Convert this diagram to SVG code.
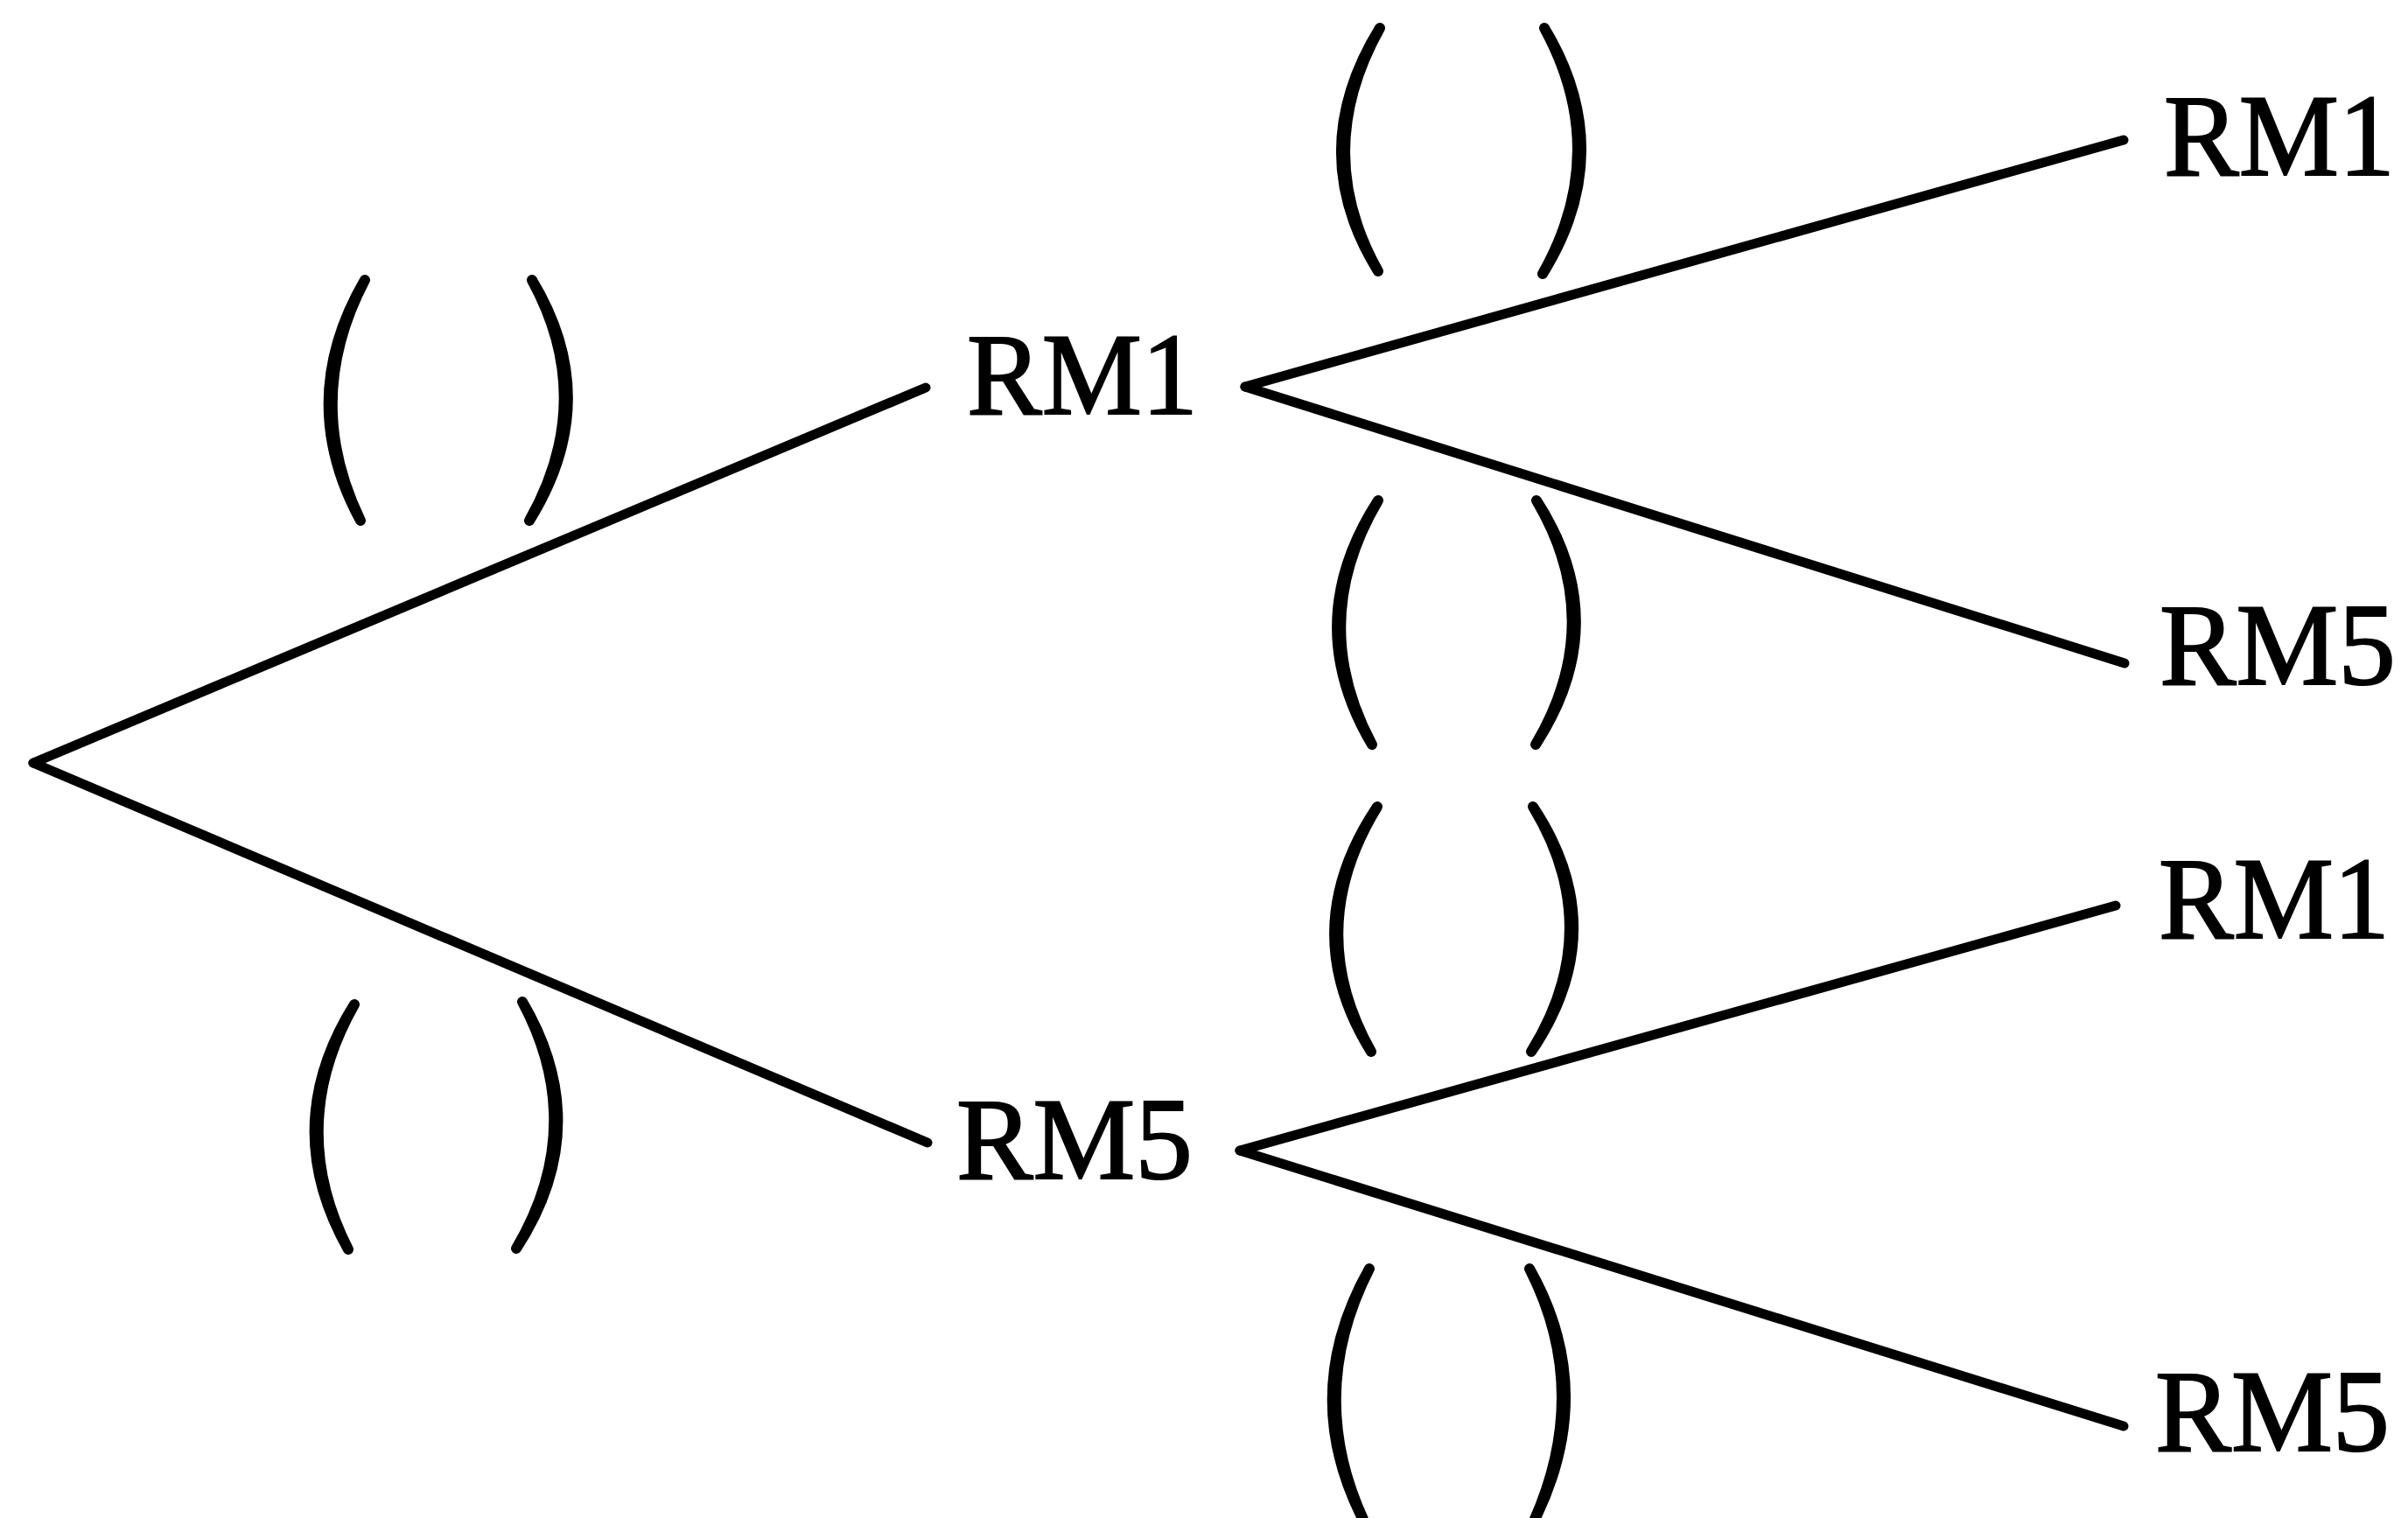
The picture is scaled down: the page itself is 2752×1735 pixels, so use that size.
<svg xmlns="http://www.w3.org/2000/svg" width="2752" height="1735" viewBox="0 0 2752 1735">
<style>
.edge{stroke:#000;stroke-width:11;stroke-linecap:round;fill:none}
.par{stroke:#000;stroke-width:12;stroke-linejoin:round;stroke-linecap:round;fill:#000}
.lbl{font-family:"Liberation Serif","Times New Roman",serif;font-size:133px;fill:#000;stroke:#000;stroke-width:2}
</style>
<rect width="2752" height="1735" fill="#fff"/>
<g id="connectors">
<line class="edge" x1="38" y1="872" x2="1058" y2="443"/>
<line class="edge" x1="38" y1="872" x2="1060" y2="1306"/>
<line class="edge" x1="1423" y1="442" x2="2427" y2="160"/>
<line class="edge" x1="1423" y1="442" x2="2428" y2="758"/>
<line class="edge" x1="1417" y1="1315" x2="2418" y2="1035"/>
<line class="edge" x1="1417" y1="1315" x2="2427" y2="1630"/>
</g>
<g id="n-rm1-mid"><text class="lbl" x="1105" y="473" textLength="264" lengthAdjust="spacingAndGlyphs">RM1</text></g>
<g id="n-rm5-mid"><text class="lbl" x="1093" y="1347" textLength="270" lengthAdjust="spacingAndGlyphs">RM5</text></g>
<g id="n-rm1-a"><text class="lbl" x="2473" y="200" textLength="264" lengthAdjust="spacingAndGlyphs">RM1</text></g>
<g id="n-rm5-a"><text class="lbl" x="2468" y="782" textLength="270" lengthAdjust="spacingAndGlyphs">RM5</text></g>
<g id="n-rm1-b"><text class="lbl" x="2467" y="1072" textLength="264" lengthAdjust="spacingAndGlyphs">RM1</text></g>
<g id="n-rm5-b"><text class="lbl" x="2463" y="1658" textLength="268" lengthAdjust="spacingAndGlyphs">RM5</text></g>
<g id="p1">
<path class="par" d="M417 320 Q337 457 412 595 Q345 457 417 320 Z"/>
<path class="par" d="M608 320 Q691 457 605 595 Q683 457 608 320 Z"/>
</g>
<g id="p2">
<path class="par" d="M405 1148 Q318 1287 398 1428 Q326 1287 405 1148 Z"/>
<path class="par" d="M597 1145 Q681 1287 590 1427 Q673 1287 597 1145 Z"/>
</g>
<g id="p3">
<path class="par" d="M1577 32 Q1490 173 1575 310 Q1498 173 1577 32 Z"/>
<path class="par" d="M1765 32 Q1850 173 1763 313 Q1842 173 1765 32 Z"/>
</g>
<g id="p4">
<path class="par" d="M1575 572 Q1485 711 1568 851 Q1493 711 1575 572 Z"/>
<path class="par" d="M1756 572 Q1846 711 1755 851 Q1838 711 1756 572 Z"/>
</g>
<g id="p5">
<path class="par" d="M1574 922 Q1480 1062 1567 1202 Q1488 1062 1574 922 Z"/>
<path class="par" d="M1752 922 Q1845 1062 1750 1202 Q1837 1062 1752 922 Z"/>
</g>
<g id="p6">
<path class="par" d="M1565 1450 Q1482 1597 1562 1745 Q1490 1597 1565 1450 Z"/>
<path class="par" d="M1748 1450 Q1829 1593 1750 1745 Q1821 1593 1748 1450 Z"/>
</g>
</svg>
